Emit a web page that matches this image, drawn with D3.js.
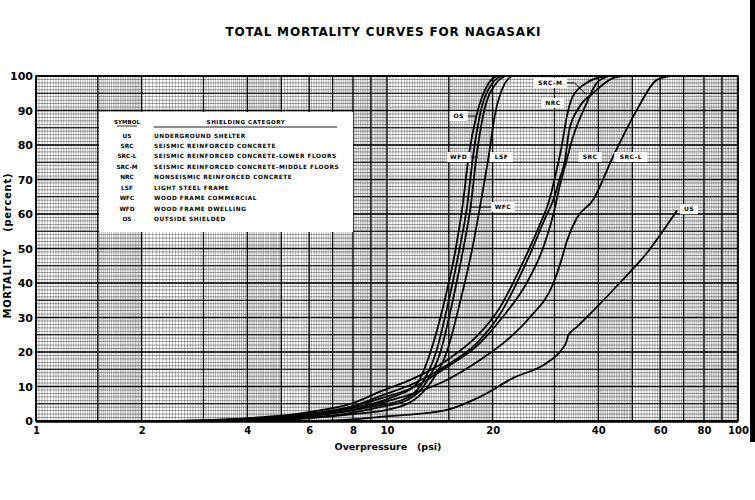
<!DOCTYPE html>
<html><head><meta charset="utf-8">
<script src="https://cdn.jsdelivr.net/npm/d3@7"></script>
<style>
html,body{margin:0;padding:0;background:#fff;}
svg{display:block;}
text{font-family:"DejaVu Sans",sans-serif;font-weight:bold;fill:#000;}
</style></head>
<body><svg id="c" width="755" height="500"></svg>
<script>
// ---- data (psi, percent mortality) ----
const xTickValues = [1, 2, 4, 6, 8, 10, 20, 40, 60, 80, 100];
const xTickLabels = ["1", "2", "4", "6", "8", "10", "20", "40", "60", "80", "100"];
const yTickValues = [0, 10, 20, 30, 40, 50, 60, 70, 80, 90, 100];

const seriesNames = ["US", "SRC", "SRC-L", "SRC-M", "NRC", "LSF", "WFC", "WFD", "OS"];
const categories = ["UNDERGROUND SHELTER", "SEISMIC REINFORCED CONCRETE",
  "SEISMIC REINFORCED CONCRETE-LOWER FLOORS", "SEISMIC REINFORCED CONCRETE-MIDDLE FLOORS",
  "NONSEISMIC REINFORCED CONCRETE", "LIGHT STEEL FRAME", "WOOD FRAME COMMERCIAL",
  "WOOD FRAME DWELLING", "OUTSIDE SHIELDED"];

const us = [[6,0],[8,0.5],[9.55,1.2],[12,2],[14.8,3.2],[18.4,7],[22.9,12.5],[28.5,16.8],[31.4,20.6],[32.4,22.8],[32.9,25],[34.7,27.2],[39.6,33],[46,40],[55,48.7],[67,61]];
const src = [[3,0],[5,1],[7,2.8],[9.55,6.5],[11.9,9.8],[14.8,15.6],[18.4,22.6],[21.3,30],[25,40],[27.8,50],[29.8,60],[31,67.8],[32.5,75.6],[33.8,82],[37,92],[39.6,98],[43,100]];
const srcL = [[3.5,0],[6,1.5],[8,3.3],[9.55,5.2],[11.9,8],[14.8,11.9],[18.4,17.7],[22,23.5],[25.5,30],[29.8,40],[31.4,46.7],[32.5,52],[34.8,59],[38.6,64],[44,76.5],[51.4,90],[58.6,98.8],[64,100]];
const srcM = [[2.5,0],[4,0.8],[6,2.6],[8,5.2],[9.55,8.5],[12,12.5],[15,18],[18,24.5],[21,33],[24.4,46],[27,56],[29,64],[30,70],[31.5,80],[32.5,88],[33.8,94],[37,98],[42,100]];
const nrc = [[2.8,0],[4,0.6],[6,2.1],[8,4.3],[9.55,7.2],[12,11],[15,16.5],[18,22.5],[21,31],[25.2,47],[28,58],[30,65],[31,70],[32.2,76],[33,84],[35.3,91],[38.6,95],[44,99.4],[47,100]];
const lsf = [[4,0],[6,0.8],[8,2],[10,3.2],[11.9,6],[13.3,11],[14.8,20],[16.2,35],[17.5,50],[18.4,62],[19.5,77],[20.3,88.7],[21.7,98],[22.7,100]];
const wfc = [[3.5,0],[5.5,0.8],[7.5,2],[9.55,4],[11.4,6],[12.9,11],[14.2,20],[15.4,35],[16.5,50],[17.3,62],[18,77],[18.8,88.7],[20.5,98],[21.8,100]];
const wfd = [[3,0],[5,0.8],[7,2.2],[9.55,4.6],[11,6],[12.6,11],[13.8,20],[15,35],[16.1,50],[16.9,62],[17.6,77],[18.4,88.7],[20,98],[21.2,100]];
const os = [[2.6,0],[4,0.6],[6,2],[8,3.8],[9.55,5.6],[10.4,7],[12.2,11],[13.3,20],[14.6,35],[15.7,50],[16.4,62],[17.1,77],[18,88.7],[19.5,98],[20.5,100]];
const seriesData = [us, src, srcL, srcM, nrc, lsf, wfc, wfd, os];

// curve label anchors in data units [psi, percent], leader path in data units
const curveLabels = [
  {t:"OS",   at:[16.0,88.4], leader:[[17.0,88.4],[18.05,88.4]]},
  {t:"WFD",  at:[16.0,76.5], leader:[[17.3,76.5],[18.2,76.5]]},
  {t:"LSF",  at:[21.2,76.5], leader:null},
  {t:"WFC",  at:[21.4,62],   leader:[[19.8,62],[17.3,62]]},
  {t:"SRC-M",at:[29.2,98],   leader:[[31.8,98],[34.2,98],[37.0,94.6]]},
  {t:"NRC",  at:[29.7,92.2], leader:null},
  {t:"SRC",  at:[37.9,76.5], leader:null},
  {t:"SRC-L",at:[49.5,76.5], leader:null},
  {t:"US",   at:[72.5,61.4], leader:null}
];

// ---- drawing ----
const svg = d3.select("#c");
const x = d3.scaleLog().domain([1,100]).range([36,738]);
const y = d3.scaleLinear().domain([0,100]).range([421,76]);

svg.append("text").attr("x",383).attr("y",36).attr("text-anchor","middle")
  .attr("font-size",12).attr("textLength",315).attr("lengthAdjust","spacing")
  .text("TOTAL  MORTALITY  CURVES  FOR  NAGASAKI");

// graph-paper grid
const grid = svg.append("g");
const vFine = [], vBold = [];
[1,10].forEach(b=>{
  for(let v=1; v<2-1e-9; v+=0.02) vFine.push(+(v*b).toFixed(4));
  for(let v=2; v<5-1e-9; v+=0.05) vFine.push(+(v*b).toFixed(4));
  for(let v=5; v<10-1e-9; v+=0.1) vFine.push(+(v*b).toFixed(4));
  [1,1.5,2,3,4,5,6,7,8,9].forEach(v=>vBold.push(v*b));
});
vBold.push(100);
const hFine = d3.range(0,101,1), hMed = d3.range(5,100,10), hBold = yTickValues;
grid.selectAll(".vf").data(vFine).join("line")
  .attr("x1",d=>x(d)).attr("x2",d=>x(d)).attr("y1",y(100)).attr("y2",y(0))
  .attr("stroke","#111").attr("stroke-width",0.5).attr("opacity",0.6);
grid.selectAll(".hf").data(hFine).join("line")
  .attr("x1",x(1)).attr("x2",x(100)).attr("y1",d=>y(d)).attr("y2",d=>y(d))
  .attr("stroke","#111").attr("stroke-width",0.6).attr("opacity",0.7);
grid.selectAll(".hm").data(hMed).join("line")
  .attr("x1",x(1)).attr("x2",x(100)).attr("y1",d=>y(d)).attr("y2",d=>y(d))
  .attr("stroke","#000").attr("stroke-width",1);
grid.selectAll(".vb").data(vBold).join("line")
  .attr("x1",d=>x(d)).attr("x2",d=>x(d)).attr("y1",y(100)).attr("y2",y(0))
  .attr("stroke","#000").attr("stroke-width",1.3);
grid.selectAll(".hb").data(hBold).join("line")
  .attr("x1",x(1)).attr("x2",x(100)).attr("y1",d=>y(d)).attr("y2",d=>y(d))
  .attr("stroke","#000").attr("stroke-width",1.3);
svg.append("rect").attr("x",x(1)).attr("y",y(100)).attr("width",x(100)-x(1)).attr("height",y(0)-y(100))
  .attr("fill","none").attr("stroke","#000").attr("stroke-width",1.6);
svg.append("line").attr("x1",x(1)).attr("x2",x(100)).attr("y1",y(0)+0.5).attr("y2",y(0)+0.5)
  .attr("stroke","#000").attr("stroke-width",2.5);

// axes (labels only; the paper grid provides ticks)
const xAxis = d3.axisBottom(x).tickValues(xTickValues).tickFormat((d,i)=>xTickLabels[i]).tickSize(0).tickPadding(6);
const gx = svg.append("g").attr("transform",`translate(0,${y(0)})`).call(xAxis);
gx.select(".domain").remove();
gx.selectAll("text").attr("font-size",10).attr("font-family","DejaVu Sans").attr("font-weight","bold");
const yAxis = d3.axisLeft(y).tickValues(yTickValues).tickSize(0).tickPadding(3);
const gy = svg.append("g").attr("transform",`translate(${x(1)},0)`).call(yAxis);
gy.select(".domain").remove();
gy.selectAll("text").attr("font-size",11).attr("font-family","DejaVu Sans").attr("font-weight","bold");

svg.append("text").attr("x",388).attr("y",450).attr("text-anchor","middle").attr("font-size",9.5)
  .attr("xml:space","preserve").text("Overpressure   (psi)");
svg.append("text").attr("transform","translate(11,246) rotate(-90)").attr("text-anchor","middle")
  .attr("font-size",10).attr("textLength",145).attr("lengthAdjust","spacing")
  .attr("xml:space","preserve").text("MORTALITY    (percent)");

// legend box
const lg = svg.append("g");
lg.append("rect").attr("x",99).attr("y",112).attr("width",254).attr("height",120).attr("fill","#fff");
lg.append("text").attr("x",127).attr("y",124).attr("text-anchor","middle").attr("font-size",5.5).text("SYMBOL");
lg.append("line").attr("x1",117).attr("x2",137).attr("y1",126).attr("y2",126).attr("stroke","#000").attr("stroke-width",0.8);
lg.append("text").attr("x",246).attr("y",124).attr("text-anchor","middle").attr("font-size",5.5).attr("letter-spacing",0.6).text("SHIELDING CATEGORY");
lg.append("line").attr("x1",154).attr("x2",337).attr("y1",127).attr("y2",127).attr("stroke","#000").attr("stroke-width",0.9);
seriesNames.forEach((s,i)=>{
  const yy = 137.5 + i*10.45;
  lg.append("text").attr("x",127).attr("y",yy).attr("text-anchor","middle").attr("font-size",5.8).text(s);
  lg.append("text").attr("x",154).attr("y",yy).attr("font-size",5.8).attr("letter-spacing",0.55).text(categories[i]);
});

// curves
const line = d3.line().x(d=>x(d[0])).y(d=>y(d[1])).curve(d3.curveMonotoneX);
svg.append("g").selectAll("path").data(seriesData).join("path")
  .attr("d",line).attr("fill","none").attr("stroke","#000").attr("stroke-width",1.8);

// curve labels
const cl = svg.append("g");
curveLabels.forEach(l=>{
  if(l.leader){
    cl.append("path").attr("d",d3.line().x(d=>x(d[0])).y(d=>y(d[1]))(l.leader))
      .attr("fill","none").attr("stroke","#000").attr("stroke-width",1);
  }
  const cx = x(l.at[0]), cy = y(l.at[1]);
  const w = l.t.length*5 + 8;
  cl.append("rect").attr("x",cx-w/2).attr("y",cy-5).attr("width",w).attr("height",10).attr("fill","#fff");
  cl.append("text").attr("x",cx).attr("y",cy+2.2).attr("text-anchor","middle").attr("font-size",6).attr("letter-spacing",0.5).text(l.t);
});

// scan edge
svg.append("rect").attr("x",750).attr("y",0).attr("width",5).attr("height",442).attr("fill","#000");
</script></body></html>
